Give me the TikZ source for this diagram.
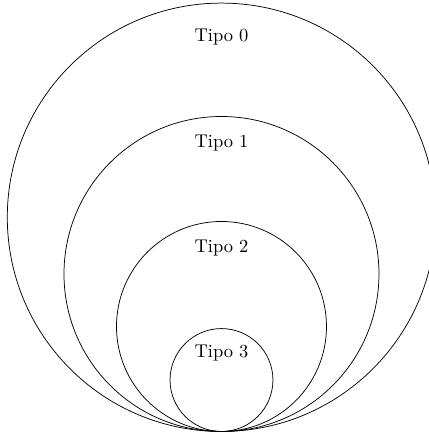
\documentclass[tikz,border=0pt]{standalone}
\begin{document}
\begin{tikzpicture}[scale=1]
\useasboundingbox (-4.219,-0.029) rectangle (3.952,8.219);
\pgfmathsetmacro{\r}{4.08}
\draw (0,\r) circle (\r);
\pgfmathsetmacro{\r}{3}
\draw (0,\r) circle (\r);
\pgfmathsetmacro{\r}{2}
\draw (0,\r) circle (\r);
\pgfmathsetmacro{\r}{0.98}
\draw (0,\r) circle (\r);
\node (tipo0) at (0,7.52) {Tipo 0};
\node (tipo1) at (0,5.49) {Tipo 1};
\node (tipo2) at (0,3.49) {Tipo 2};
\node (tipo3) at (0,1.50) {Tipo 3};
\end{tikzpicture}
\end{document}
